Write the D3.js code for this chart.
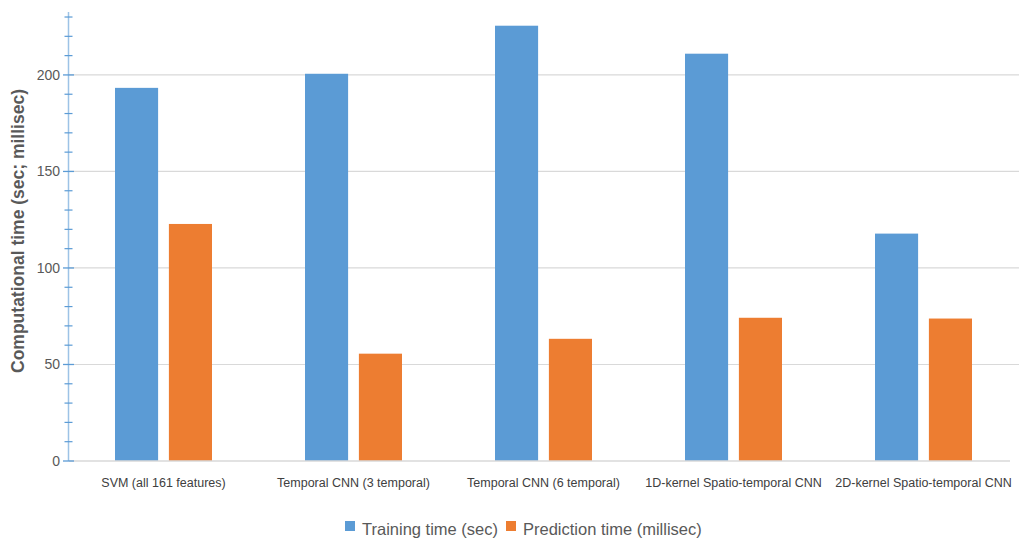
<!DOCTYPE html>
<html>
<head>
<meta charset="utf-8">
<script src="https://cdn.jsdelivr.net/npm/d3@7"></script>
<style>
  html, body { margin: 0; padding: 0; background: #fff; }
  svg { display: block; }
  text { font-family: "Liberation Sans Narrow", "Liberation Sans", sans-serif; }
</style>
</head>
<body>
<svg id="chart" width="1019" height="543"></svg>
<script>
const categories = [
  "SVM (all 161 features)",
  "Temporal CNN (3 temporal)",
  "Temporal CNN (6 temporal)",
  "1D-kernel Spatio-temporal CNN",
  "2D-kernel Spatio-temporal CNN"
];
const seriesNames = ["Training time (sec)", "Prediction time (millisec)"];
const trainingTime = [193.3, 200.6, 225.5, 211.0, 117.8];
const predictionTime = [122.8, 55.6, 63.3, 74.2, 73.8];
const majorTicks = [0, 50, 100, 150, 200];
const minorTicks = [10, 20, 30, 40, 60, 70, 80, 90, 110, 120, 130, 140, 160, 170, 180, 190, 210, 220, 230];
const colors = ["#5B9BD5", "#ED7D31"];

const svg = d3.select("#chart");
const x0 = d3.scaleBand().domain(categories).range([68.5, 1018.5]).paddingInner(0).paddingOuter(0);
const y = d3.scaleLinear().domain([0, 232.6]).range([461, 12]);
const x1 = d3.scaleBand().domain([0, 1]).range([46.5, 143.5]).paddingInner(0.2);

// gridlines
svg.append("g").selectAll("line").data(majorTicks.filter(d => d > 0)).join("line")
  .attr("x1", 69).attr("x2", 1019)
  .attr("y1", d => y(d)).attr("y2", d => y(d))
  .attr("stroke", "#d9d9d9").attr("stroke-width", 1.2);

// bars
const data = categories.map((c, i) => ({ c, vals: [trainingTime[i], predictionTime[i]] }));
const groups = svg.append("g").selectAll("g").data(data).join("g")
  .attr("transform", d => `translate(${x0(d.c)},0)`);
groups.selectAll("rect").data(d => d.vals.map((v, k) => ({ v, k }))).join("rect")
  .attr("x", d => x1(d.k))
  .attr("width", x1.bandwidth())
  .attr("y", d => y(d.v))
  .attr("height", d => y(0) - y(d.v))
  .attr("fill", d => colors[d.k]);

// baseline
svg.append("line").attr("x1", 69).attr("x2", 1010).attr("y1", y(0)).attr("y2", y(0))
  .attr("stroke", "#d9d9d9").attr("stroke-width", 1.5);

// y axis
const axisColor = "#9DC3E6";
svg.append("line").attr("x1", 68.5).attr("x2", 68.5).attr("y1", y(0)).attr("y2", 12)
  .attr("stroke", axisColor).attr("stroke-width", 1.5);
svg.append("g").selectAll("line").data(majorTicks).join("line")
  .attr("x1", 63).attr("x2", 74).attr("y1", d => y(d)).attr("y2", d => y(d))
  .attr("stroke", "#5B9BD5").attr("stroke-width", 1.3);
svg.append("g").selectAll("line").data(minorTicks).join("line")
  .attr("x1", 64.5).attr("x2", 72.5).attr("y1", d => y(d)).attr("y2", d => y(d))
  .attr("stroke", "#5B9BD5").attr("stroke-width", 1.2);
svg.append("g").selectAll("text").data(majorTicks).join("text")
  .attr("x", 60).attr("y", d => y(d)).attr("dy", "0.35em")
  .attr("text-anchor", "end").attr("font-size", 14).attr("fill", "#595959")
  .text(d => d);

// x labels
svg.append("g").selectAll("text").data(categories).join("text")
  .attr("x", d => x0(d) + x0.bandwidth() / 2).attr("y", 487)
  .attr("text-anchor", "middle").attr("font-size", 12.5).attr("fill", "#404040")
  .text(d => d);

// y title
svg.append("text")
  .attr("transform", "translate(24,231) rotate(-90)")
  .attr("text-anchor", "middle").attr("font-size", 17.5).attr("font-weight", "bold")
  .attr("font-family", "'Liberation Sans', sans-serif")
  .attr("fill", "#595959")
  .text("Computational time (sec; millisec)");

// legend
const legend = svg.append("g");
const legX = [345, 506];
seriesNames.forEach((n, i) => {
  legend.append("rect").attr("x", legX[i]).attr("y", 521).attr("width", 10).attr("height", 10).attr("fill", colors[i]);
  legend.append("text").attr("x", legX[i] + 17).attr("y", 535)
    .attr("font-size", 16.5).attr("fill", "#595959").text(n);
});
</script>
</body>
</html>
